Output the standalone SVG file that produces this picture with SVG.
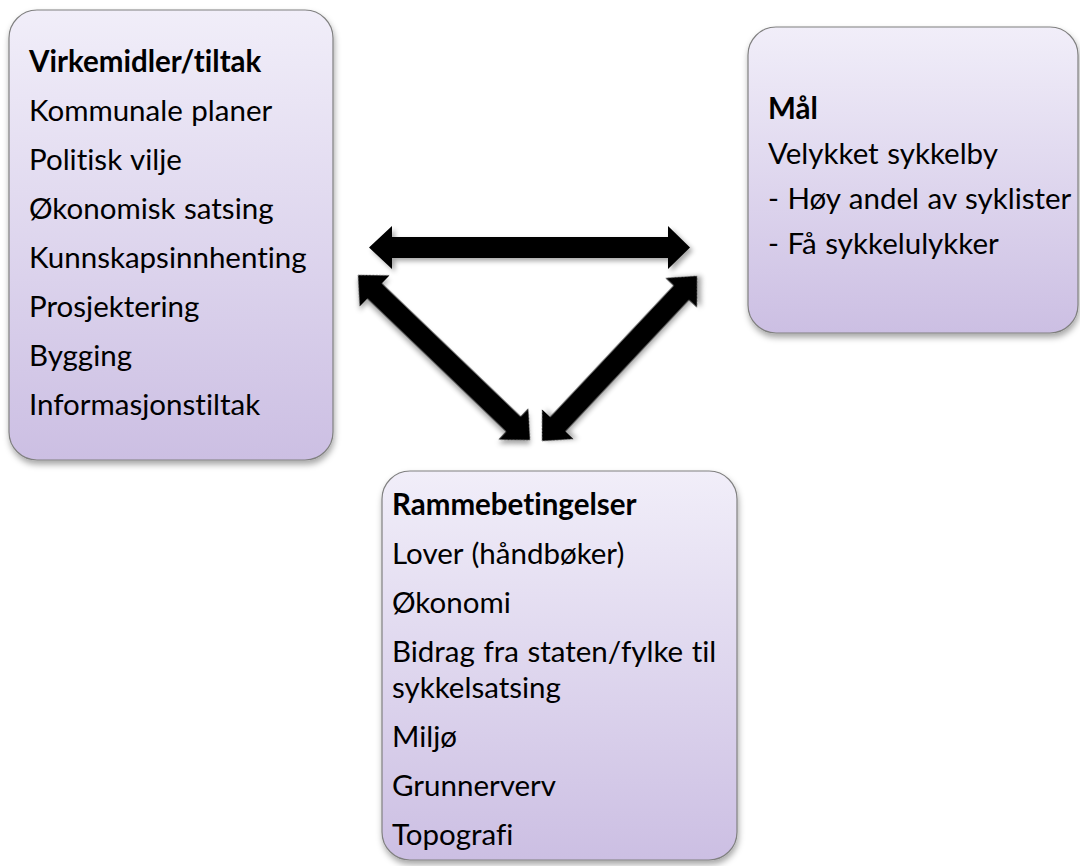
<svg xmlns="http://www.w3.org/2000/svg" width="1080" height="866" viewBox="0 0 1080 866">
<defs>
<linearGradient id="fillGrad" x1="0" y1="0" x2="0" y2="1">
<stop offset="0" stop-color="#F1EEF9"/>
<stop offset="1" stop-color="#CCBFE3"/>
</linearGradient>
<filter id="boxShadow" x="-10%" y="-10%" width="120%" height="125%">
<feDropShadow dx="1" dy="4" stdDeviation="3" flood-color="#000" flood-opacity="0.35"/>
</filter>
<filter id="arrowShadow" x="-20%" y="-20%" width="140%" height="140%">
<feDropShadow dx="3" dy="3" stdDeviation="2.5" flood-color="#000" flood-opacity="0.35"/>
</filter>
<style>
.box{fill:url(#fillGrad);stroke:#808080;stroke-width:1.2;filter:url(#boxShadow)}
.t{font-family:Lato,"Liberation Sans",sans-serif;font-size:29.5px;word-spacing:1px;font-variant-ligatures:none;fill:#000}
.b{font-weight:bold}
.arrow{fill:#000;filter:url(#arrowShadow)}
</style>
</defs>
<g id="connectors">
<path class="arrow" d="M369,247.5 L392,226 L392,237 L668,237 L668,226 L690,247.5 L668,269 L668,258 L392,258 L392,269 Z"/>
<path class="arrow" transform="translate(358,275) rotate(43.81)" d="M0,0 L23,-21.5 L23,-10.5 L215.3,-10.5 L215.3,-21.5 L238.3,0 L215.3,21.5 L215.3,10.5 L23,10.5 L23,21.5 Z"/>
<path class="arrow" transform="translate(542,441) rotate(-46.79)" d="M0,0 L23,-21.5 L23,-10.5 L203.4,-10.5 L203.4,-21.5 L226.4,0 L203.4,21.5 L203.4,10.5 L23,10.5 L23,21.5 Z"/>
</g>
<g id="virkemidler">
<rect class="box" x="9" y="10" width="324" height="450" rx="28"/>
<text class="t b" x="29" y="72">Virkemidler/tiltak</text>
<text class="t" x="29" y="121">Kommunale planer</text>
<text class="t" x="29" y="170">Politisk vilje</text>
<text class="t" x="29" y="219">Økonomisk satsing</text>
<text class="t" x="29" y="268">Kunnskapsinnhenting</text>
<text class="t" x="29" y="317">Prosjektering</text>
<text class="t" x="29" y="366">Bygging</text>
<text class="t" x="29" y="415">Informasjonstiltak</text>
</g>
<g id="maal">
<rect class="box" x="748" y="27" width="330" height="306" rx="28"/>
<text class="t b" x="768" y="119">Mål</text>
<text class="t" x="768" y="164">Velykket sykkelby</text>
<text class="t" x="768" y="209">- Høy andel av syklister</text>
<text class="t" x="768" y="254">- Få sykkelulykker</text>
</g>
<g id="rammebetingelser">
<rect class="box" x="382" y="471" width="355" height="389" rx="28"/>
<text class="t b" x="392" y="515">Rammebetingelser</text>
<text class="t" x="392" y="564">Lover (håndbøker)</text>
<text class="t" x="392" y="613">Økonomi</text>
<text class="t" x="392" y="662">Bidrag fra staten/fylke til</text>
<text class="t" x="392" y="698">sykkelsatsing</text>
<text class="t" x="392" y="747">Miljø</text>
<text class="t" x="392" y="796">Grunnerverv</text>
<text class="t" x="392" y="845">Topografi</text>
</g>
</svg>
